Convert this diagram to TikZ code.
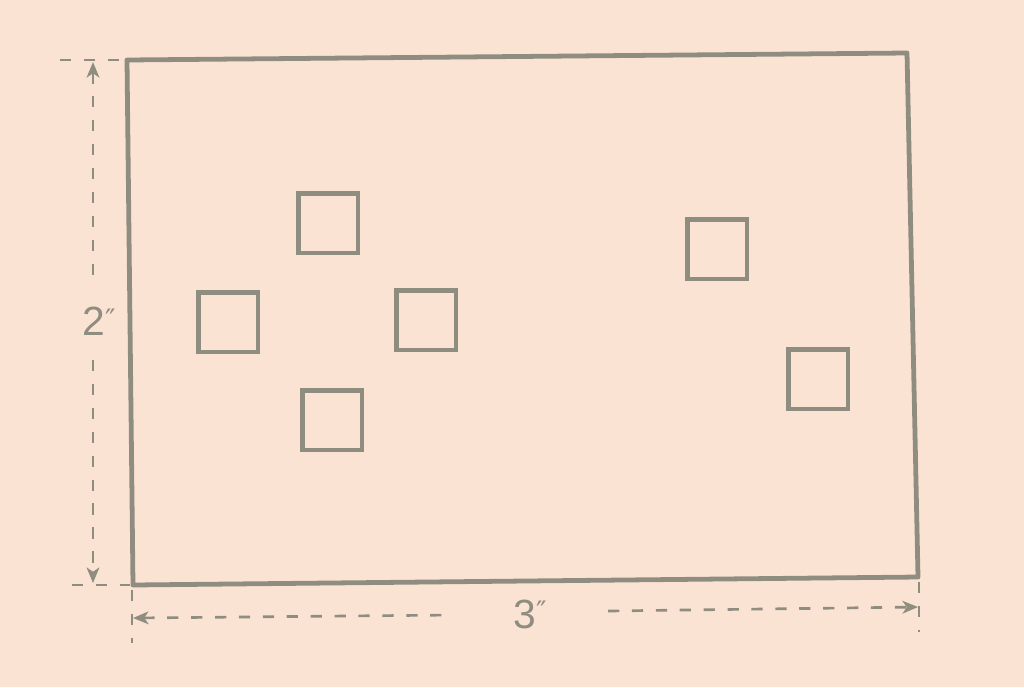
\documentclass[tikz,border=0pt]{standalone}
\usepackage{fontspec}
\setmainfont{Liberation Sans}
\newfontfamily\primefont{DejaVu Sans}
\usetikzlibrary{arrows.meta}
\definecolor{paper}{HTML}{FBE3D4}
\definecolor{pencil}{HTML}{8F8C80}

\begin{document}
\begin{tikzpicture}[x=0.025cm,y=-0.025cm,
	dimline/.style={draw=pencil,line width=1.9pt,dash pattern=on 8pt off 9pt}]
	\useasboundingbox (0,0) rectangle (1024,687);
	\fill[paper] (0,0) rectangle (1024,687);
	% the card, drawn by hand
	\draw[pencil,line width=3.4pt,line join=round]
		(127,60) -- (907,53) -- (918,577) -- (133,585) -- cycle;
	\begin{scope}[every node/.style={rectangle,draw=pencil,line width=3pt,
	              minimum size=1.48cm,inner sep=0pt}]
		\node (a) at (328,223) {};
		\node (b) at (228,322) {};
		\node (c) at (426,320) {};
		\node (d) at (332,420) {};
		\node (e) at (717,249) {};
		\node (f) at (818,379) {};
	\end{scope}

	\begin{scope}[every node/.style={text=pencil,font=\fontsize{29}{30}\selectfont}]
		\node (h) at (99,321) {2\raisebox{0.15em}{\primefont\fontsize{20}{20}\selectfont ″}};
		\node (w) at (530,614) {3\raisebox{0.15em}{\primefont\fontsize{20}{20}\selectfont ″}};
	\end{scope}

	\coordinate (ht) at (93,62);
	\coordinate (hu) at (93,286);
	\coordinate (hl) at (93,360);
	\coordinate (hb) at (93,583);
	\coordinate (wl) at (133,618);
	\coordinate (wu) at (452,615);
	\coordinate (wr) at (608,611);
	\coordinate (we) at (918,607);

	\begin{scope}[>={Stealth[length=11pt,width=9pt,inset=3pt]}]
		% extension lines
		\draw[dimline] (60,60) -- (121,60);
		\draw[dimline] (72,585) -- (130,585);
		\draw[dimline] (132,590) -- (132,643);
		\draw[dimline] (919,582) -- (919,632);
		% dimension lines
		\draw[dimline,<-] (ht) -- (hu);
		\draw[dimline,->] (hl) -- (hb);
		\draw[dimline,<-] (wl) -- (wu);
		\draw[dimline,->] (wr) -- (we);
	\end{scope}
\end{tikzpicture}
\end{document}
